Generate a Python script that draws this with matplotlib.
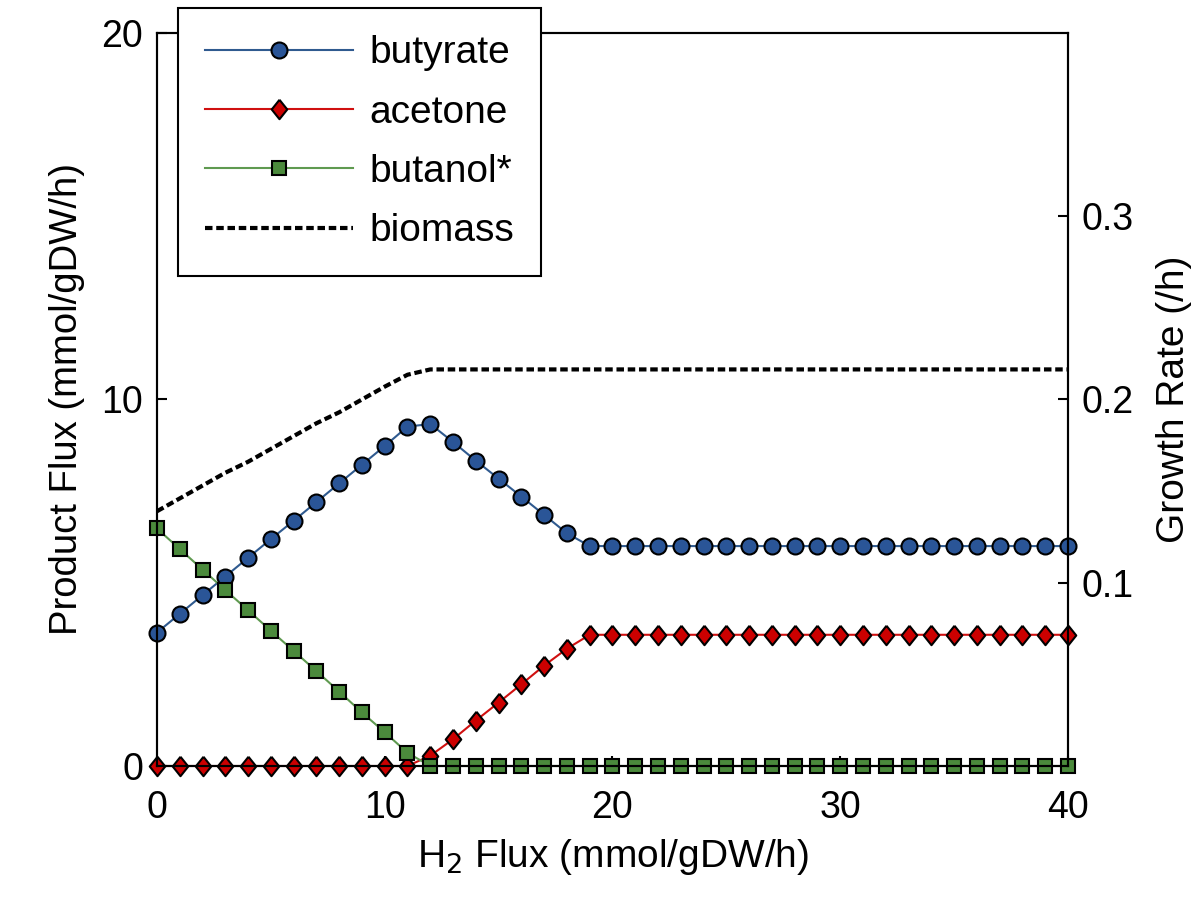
import matplotlib
matplotlib.use('Agg')
import matplotlib.pyplot as plt

plt.rcParams['font.family'] = ['Liberation Sans', 'DejaVu Sans']

# H2 flux values (mmol/gDW/h)
h2_flux = [0, 1, 2, 3, 4, 5, 6, 7, 8, 9, 10,
           11, 12, 13, 14, 15, 16, 17, 18, 19, 20,
           21, 22, 23, 24, 25, 26, 27, 28, 29, 30,
           31, 32, 33, 34, 35, 36, 37, 38, 39, 40]

# product fluxes (mmol/gDW/h)
butyrate = [3.64, 4.15, 4.66, 5.17, 5.68, 6.19, 6.69, 7.20, 7.71, 8.22, 8.73,
            9.26, 9.33, 8.84, 8.33, 7.84, 7.35, 6.85, 6.35, 6.00, 6.00,
            6.00, 6.00, 6.00, 6.00, 6.00, 6.00, 6.00, 6.00, 6.00, 6.00,
            6.00, 6.00, 6.00, 6.00, 6.00, 6.00, 6.00, 6.00, 6.00, 6.00]
acetone = [0.0, 0.0, 0.0, 0.0, 0.0, 0.0, 0.0, 0.0, 0.0, 0.0, 0.0,
           0.0, 0.28, 0.73, 1.24, 1.73, 2.23, 2.74, 3.20, 3.58, 3.58,
           3.58, 3.58, 3.58, 3.58, 3.58, 3.58, 3.58, 3.58, 3.58, 3.58,
           3.58, 3.58, 3.58, 3.58, 3.58, 3.58, 3.58, 3.58, 3.58, 3.58]
butanol = [6.48, 5.92, 5.36, 4.80, 4.25, 3.69, 3.14, 2.59, 2.03, 1.46, 0.92,
           0.36, 0.0, 0.0, 0.0, 0.0, 0.0, 0.0, 0.0, 0.0, 0.0,
           0.0, 0.0, 0.0, 0.0, 0.0, 0.0, 0.0, 0.0, 0.0, 0.0,
           0.0, 0.0, 0.0, 0.0, 0.0, 0.0, 0.0, 0.0, 0.0, 0.0]

# growth rate (/h)
biomass = [0.139, 0.146, 0.153, 0.160, 0.166, 0.173, 0.180, 0.187, 0.193, 0.200, 0.207,
           0.2135, 0.2164, 0.2164, 0.2164, 0.2164, 0.2164, 0.2164, 0.2164, 0.2164, 0.2164,
           0.2164, 0.2164, 0.2164, 0.2164, 0.2164, 0.2164, 0.2164, 0.2164, 0.2164, 0.2164,
           0.2164, 0.2164, 0.2164, 0.2164, 0.2164, 0.2164, 0.2164, 0.2164, 0.2164, 0.2164]

diamond = [(0, 1), (0.8, 0), (0, -1), (-0.8, 0), (0, 1)]

fig = plt.figure(figsize=(12, 8.98), dpi=100)
ax = fig.add_axes([0.1308, 0.147, 0.7592, 0.8163])
ax2 = ax.twinx()

l1, = ax.plot(h2_flux, butyrate, color='#2f5a8f', lw=1.5, marker='o', ms=11.5,
              mfc='#2a5597', mec='black', mew=1.5, clip_on=False, label='butyrate')
l2, = ax.plot(h2_flux, acetone, color='#d01010', lw=1.5, marker=diamond, ms=14,
              mfc='#cc0000', mec='black', mew=1.5, clip_on=False, label='acetone')
l3, = ax.plot(h2_flux, butanol, color='#5f9a50', lw=1.5, marker='s', ms=10.5,
              mfc='#4b8a3c', mec='black', mew=1.5, clip_on=False, label='butanol*')
l4, = ax2.plot(h2_flux, biomass, color='black', lw=3, linestyle=(0, (1.8, 0.9)),
               label='biomass')

ax.set_xlim(0, 40)
ax.set_ylim(0, 20)
ax2.set_ylim(0, 0.4)
ax.set_xticks([0, 10, 20, 30, 40])
ax.set_yticks([0, 10, 20])
ax2.set_yticks([0.1, 0.2, 0.3])
ax2.set_yticklabels(['0.1', '0.2', '0.3'])

for a in (ax, ax2):
    for s in a.spines.values():
        s.set_linewidth(1.5)
ax.tick_params(axis='both', direction='in', length=7, width=1.5)
ax.tick_params(axis='y', pad=10, labelsize=27)
ax.tick_params(axis='x', pad=17, labelsize=27)
ax2.tick_params(axis='y', direction='in', length=7, width=1.5, labelsize=27, pad=10)

ax.set_xlabel('H$_2$ Flux (mmol/gDW/h)', fontsize=28, labelpad=8)
ax.set_ylabel('Product Flux (mmol/gDW/h)', fontsize=27.5, labelpad=12)
ax2.set_ylabel('Growth Rate (/h)', fontsize=28, labelpad=16)

leg = ax2.legend(handles=[l1, l2, l3, l4], loc='upper left',
                 bbox_to_anchor=(0.1483, 0.9911), bbox_transform=fig.transFigure,
                 borderaxespad=0, fontsize=28, handlelength=3.8, handletextpad=0.42,
                 labelspacing=0.6, borderpad=0.7, fancybox=False, framealpha=1)
leg.get_frame().set_edgecolor('black')
leg.get_frame().set_linewidth(1.5)

fig.savefig('out.png', dpi=100)
